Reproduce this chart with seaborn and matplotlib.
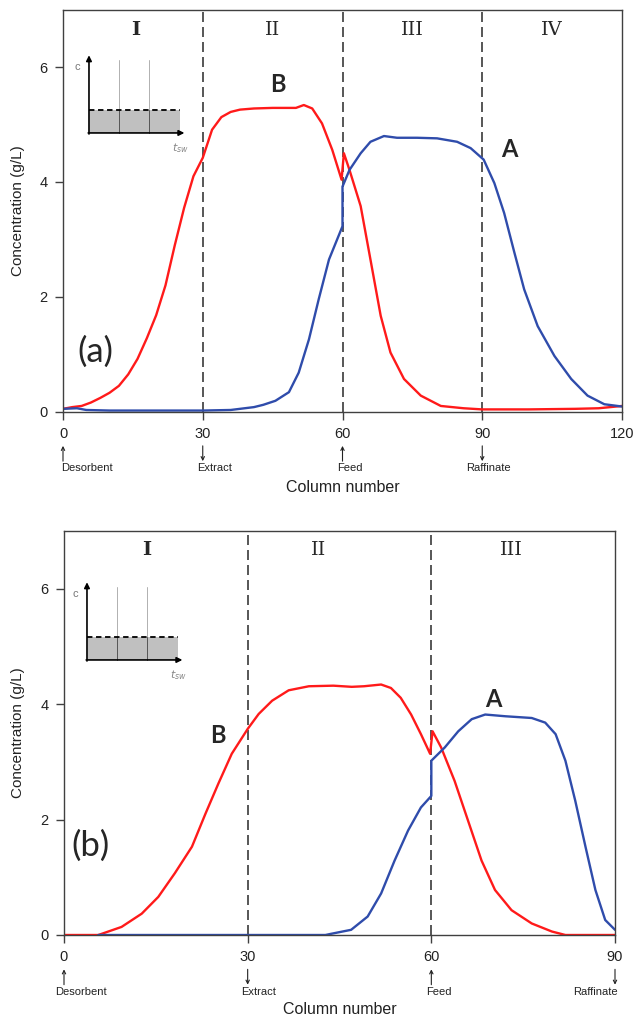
import numpy as np
import pandas as pd
import matplotlib
matplotlib.use('Agg')
import matplotlib.pyplot as plt
from matplotlib.patches import Rectangle
import seaborn as sns

# ---- data ----
# (a) four-zone profile, columns 0-120
top_x_B = [0, 2, 4, 6, 8, 10, 12, 14, 16, 18, 20, 22, 24, 26, 28, 30, 32, 34, 36, 38, 41, 45, 50,
           51.7, 53.5, 55.6, 57.8, 59.8, 60.3, 61.5, 63.9, 66, 68.2, 70.3, 73.2, 76.8, 81.1, 86,
           90, 100, 110, 115, 120]
top_B = [0.05, 0.08, 0.1, 0.16, 0.24, 0.33, 0.45, 0.65, 0.92, 1.28, 1.68, 2.2, 2.9, 3.55, 4.1,
         4.42, 4.91, 5.13, 5.22, 5.26, 5.28, 5.29, 5.29, 5.34, 5.28, 5.02, 4.56, 4.04, 4.5, 4.21,
         3.58, 2.65, 1.67, 1.03, 0.57, 0.28, 0.1, 0.06, 0.04, 0.04, 0.05, 0.06, 0.1]
top_x_A = [0, 3, 5, 10, 20, 30, 36, 38, 41, 43, 45.6, 48.5, 50.6, 52.8, 54.9, 57.1, 60, 60, 61.5,
           63.9, 66, 68.9, 71.7, 76, 80.3, 84.6, 87.5, 90.3, 92.6, 94.7, 96.9, 99, 101.9, 105.5,
           109.1, 112.6, 116.2, 120]
top_A = [0.05, 0.06, 0.03, 0.02, 0.02, 0.02, 0.03, 0.05, 0.08, 0.12, 0.19, 0.34, 0.68, 1.26, 1.96,
         2.65, 3.23, 3.92, 4.21, 4.5, 4.7, 4.8, 4.77, 4.77, 4.76, 4.7, 4.59, 4.39, 3.98, 3.46,
         2.77, 2.13, 1.49, 0.97, 0.57, 0.28, 0.13, 0.09]

# (b) three-zone profile, columns 0-90
bot_x_B = [0, 5.6, 9.4, 12.7, 15.4, 18.1, 20.9, 23.1, 25.2, 27.4, 30, 31.8, 34, 36.7, 40, 44, 47,
           49, 51.8, 53.4, 55, 56.7, 58.3, 59.8, 60.2, 61.6, 63.8, 66, 68.2, 70.4, 73.1, 76.4,
           79.7, 81.9, 90]
bot_B = [0, 0, 0.14, 0.37, 0.66, 1.07, 1.53, 2.1, 2.62, 3.14, 3.57, 3.83, 4.06, 4.24, 4.31, 4.32,
         4.3, 4.31, 4.34, 4.28, 4.11, 3.82, 3.48, 3.14, 3.53, 3.25, 2.67, 1.98, 1.29, 0.78, 0.43,
         0.2, 0.06, 0.0, 0.0]
bot_x_A = [5.6, 30, 42.7, 43.6, 46.9, 49.6, 51.8, 54, 56.2, 58.3, 60, 60, 62.2, 64.4, 66.6, 68.8,
           72.1, 76.4, 78.6, 80.3, 81.9, 83.5, 85.2, 86.8, 88.4, 90]
bot_A = [0, 0, 0, 0.02, 0.09, 0.32, 0.72, 1.29, 1.81, 2.21, 2.41, 3.02, 3.25, 3.53, 3.74, 3.82,
         3.79, 3.76, 3.68, 3.48, 3.02, 2.33, 1.52, 0.78, 0.26, 0.09]

top_zones = ['I', 'II', 'III', 'IV']
bot_zones = ['I', 'II', 'III']
ports_top = ['Desorbent', 'Extract', 'Feed', 'Raffinate']
ports_bot = ['Desorbent', 'Extract', 'Feed', 'Raffinate']

RED = '#ff1a1a'
BLUE = '#2f4cab'

sns.set_style('ticks')
plt.rcParams['font.family'] = ['Liberation Sans', 'DejaVu Sans']

fig = plt.figure(figsize=(6.37, 10.28), dpi=100)
ax1 = fig.add_axes([63/637, 1-411.7/1028, 559/637, 402/1028])
ax2 = fig.add_axes([64/637, 1-935/1028, 551/637, 404/1028])


def style_axes(ax, xmax, ticks, xlabel_y, ylabel_x):
    ax.set_xlim(0, xmax)
    ax.set_ylim(0, 7)
    ax.set_xticks(ticks)
    ax.set_yticks([0, 2, 4, 6])
    for s in ax.spines.values():
        s.set_visible(True)
        s.set_color('#404040')
        s.set_linewidth(1.0)
    ax.tick_params(axis='both', direction='out', length=6, width=1, color='#404040',
                   labelsize=10.5, labelcolor='#222222', pad=5)
    ax.set_ylabel('Concentration (g/L)', fontsize=11, color='#222222')
    ax.yaxis.set_label_coords(ylabel_x, 0.5)
    ax.set_xlabel('Column number', fontsize=11.5, color='#222222')
    ax.xaxis.set_label_coords(0.5, xlabel_y)


def ports(ax, ticks, names, dirs, text_x, has):
    tr = ax.get_xaxis_transform()
    for t, n, d, tx, ha in zip(ticks, names, dirs, text_x, has):
        top, bot = -0.085, -0.123
        if d == 'up':
            ax.annotate('', xy=(t, top), xytext=(t, bot), xycoords=tr, textcoords=tr,
                        arrowprops=dict(arrowstyle='->', color='#222222', lw=0.8,
                                        mutation_scale=6, shrinkA=0, shrinkB=0))
        else:
            ax.annotate('', xy=(t, bot), xytext=(t, top), xycoords=tr, textcoords=tr,
                        arrowprops=dict(arrowstyle='->', color='#222222', lw=0.8,
                                        mutation_scale=6, shrinkA=0, shrinkB=0))
        ax.text(tx, -0.14, n, transform=tr, ha=ha, va='center', fontsize=8, color='#222222')


def inset(left_px, top_px):
    iax = fig.add_axes([left_px/637, 1-(top_px+105)/1028, 130/637, 105/1028])
    iax.set_xlim(0, 1)
    iax.set_ylim(0, 1)
    iax.axis('off')
    iax.add_patch(Rectangle((0.146, 0.21), 0.70, 0.219, fc='#c0c0c0', ec='none'))
    for u in (0.377, 0.608):
        iax.plot([u, u], [0.429, 0.905], color='#b0b0b0', lw=0.7)
        iax.plot([u, u], [0.21, 0.429], color='#555555', lw=0.7)
    iax.plot([0.146, 0.846], [0.429, 0.429], color='k', lw=1.3, ls=(0, (3, 2)))
    iax.annotate('', xy=(0.146, 0.95), xytext=(0.146, 0.2),
                 arrowprops=dict(arrowstyle='-|>', color='k', lw=1.2, mutation_scale=8,
                                 shrinkA=0, shrinkB=0))
    iax.annotate('', xy=(0.88, 0.21), xytext=(0.14, 0.21),
                 arrowprops=dict(arrowstyle='-|>', color='k', lw=1.2, mutation_scale=8,
                                 shrinkA=0, shrinkB=0))
    iax.text(0.06, 0.84, 'c', color='#777777', fontsize=8, ha='center', va='center')
    iax.text(0.85, 0.07, r'$t_{sw}$', color='#888888', fontsize=8, ha='center', va='center')


# ---- (a) ----
sns.lineplot(x=top_x_B, y=top_B, color=RED, lw=1.7, estimator=None, sort=False, ax=ax1)
sns.lineplot(x=top_x_A, y=top_A, color=BLUE, lw=1.7, estimator=None, sort=False, ax=ax1)
for xv in (30, 60, 90):
    ax1.axvline(xv, color='#3a3a3a', lw=1.2, ls=(0, (6, 3)), zorder=1)
style_axes(ax1, 120, [0, 30, 60, 90, 120], -0.17, -0.068)
roman = ['DejaVu Serif', 'DejaVu Sans']
for xv, z in zip([15.5, 45, 75, 105], top_zones):
    ax1.text(xv, 6.65, z, ha='center', va='center', fontsize=14, family=roman,
             fontweight='bold' if z == 'I' else 'normal')
ax1.text(46.2, 5.7, 'B', ha='center', va='center', fontsize=17, fontweight='bold', family='Lato')
ax1.text(95.8, 4.56, 'A', ha='center', va='center', fontsize=17, fontweight='bold', family='Lato')
ax1.text(7, 1.05, '(a)', ha='center', va='center', fontsize=25, family='Lato')
ports(ax1, [0, 30, 60, 90], ports_top, ['up', 'down', 'up', 'down'],
      [-0.5, 28.8, 58.9, 86.6], ['left'] * 4)
inset(70, 50)

# ---- (b) ----
sns.lineplot(x=bot_x_B, y=bot_B, color=RED, lw=1.7, estimator=None, sort=False, ax=ax2)
sns.lineplot(x=bot_x_A, y=bot_A, color=BLUE, lw=1.7, estimator=None, sort=False, ax=ax2)
for xv in (30, 60):
    ax2.axvline(xv, color='#3a3a3a', lw=1.2, ls=(0, (6, 3)), zorder=1)
style_axes(ax2, 90, [0, 30, 60, 90], -0.165, -0.07)
for xv, z in zip([13.5, 41.5, 73], bot_zones):
    ax2.text(xv, 6.67, z, ha='center', va='center', fontsize=14, family=roman,
             fontweight='bold' if z == 'I' else 'normal')
ax2.text(25.1, 3.45, 'B', ha='center', va='center', fontsize=17, fontweight='bold', family='Lato')
ax2.text(70.2, 4.08, 'A', ha='center', va='center', fontsize=17, fontweight='bold', family='Lato')
ax2.text(4.3, 1.55, '(b)', ha='center', va='center', fontsize=25, family='Lato')
ports(ax2, [0, 30, 60, 90], ports_bot, ['up', 'down', 'up', 'down'],
      [-1.5, 28.9, 59.2, 90.4], ['left', 'left', 'left', 'right'])
inset(68, 577)

fig.savefig('out.png', dpi=100)
